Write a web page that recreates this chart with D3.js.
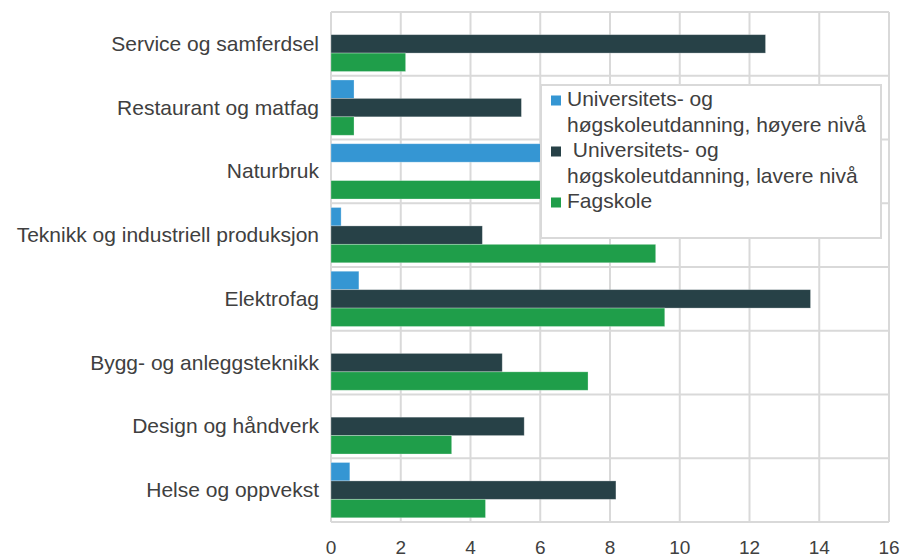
<!DOCTYPE html>
<html><head><meta charset="utf-8">
<script src="https://cdn.jsdelivr.net/npm/d3@7"></script>
<style>body{margin:0;background:#fff}svg{display:block}text{font-family:"Liberation Sans",Arial,sans-serif;fill:#404040}</style>
</head><body><svg id="c" width="904" height="557"></svg>
<script>
const categories = ["Service og samferdsel","Restaurant og matfag","Naturbruk","Teknikk og industriell produksjon","Elektrofag","Bygg- og anleggsteknikk","Design og håndverk","Helse og oppvekst"];
const seriesNames = ["Universitets- og høgskoleutdanning, høyere nivå","Universitets- og høgskoleutdanning, lavere nivå","Fagskole"];
const hoyere = [0, 0.66, 8.5, 0.29, 0.8, 0, 0, 0.54];
const lavere = [12.46, 5.46, 0, 4.34, 13.75, 4.91, 5.54, 8.17];
const fagskole = [2.14, 0.66, 7.5, 9.31, 9.57, 7.37, 3.46, 4.43];
const xTicks = [0,2,4,6,8,10,12,14,16];
const colors = ["#3596d3","#274147","#1f9e4a"];
const legendLines = [["Universitets- og","høgskoleutdanning, høyere nivå"],[" Universitets- og","høgskoleutdanning, lavere nivå"],["Fagskole"]];

const svg = d3.select("#c");
const L = 331, R = 889, T = 12, B = 522;
const FS = 21;
const x = d3.scaleLinear().domain([0,16]).range([L,R]);
const y0 = d3.scaleBand().domain(categories).range([T,B]).padding(0);
const y1 = d3.scaleBand().domain([0,1,2]).range([0,y0.bandwidth()]).paddingInner(0).paddingOuter(0.23);
const gridC = "#d9d9d9";

// grid
svg.append("g").selectAll("line.v").data(xTicks).join("line")
  .attr("x1",d=>x(d)).attr("x2",d=>x(d)).attr("y1",T).attr("y2",B)
  .attr("stroke",gridC).attr("stroke-width",2);
const bounds = categories.map(c=>y0(c)).concat([B]);
svg.append("g").selectAll("line.h").data(bounds).join("line")
  .attr("x1",L).attr("x2",R).attr("y1",d=>d).attr("y2",d=>d)
  .attr("stroke",gridC).attr("stroke-width",2);

// bars
const series = [hoyere, lavere, fagskole];
series.forEach((vals, si) => {
  svg.append("g").selectAll("rect").data(vals.map((v,i)=>({v,c:categories[i]})).filter(d=>d.v>0)).join("rect")
    .attr("x", x(0)).attr("y", d=>y0(d.c)+y1(si))
    .attr("width", d=>x(d.v)-x(0)).attr("height", y1.bandwidth())
    .attr("fill", colors[si]).attr("stroke","rgba(255,255,255,0.35)").attr("stroke-width",0.8);
});

// x axis labels
svg.append("g").selectAll("text").data(xTicks).join("text")
  .attr("x",d=>x(d)).attr("y",554).attr("text-anchor","middle")
  .attr("font-size",19).text(d=>d);

// category labels
svg.append("g").selectAll("text").data(categories).join("text")
  .attr("x",319).attr("y",d=>y0(d)+y0.bandwidth()/2+7).attr("text-anchor","end")
  .attr("font-size",FS).text(d=>d);

// legend
const lg = svg.append("g");
lg.append("rect").attr("x",541).attr("y",85).attr("width",340).attr("height",153)
  .attr("fill","#fff").attr("stroke",gridC).attr("stroke-width",2);
const lineY = [106,131.5,157,182.5,208];
let li = 0;
legendLines.forEach((lines, si) => {
  lg.append("rect").attr("x",551).attr("y",lineY[li]-10.5).attr("width",10).attr("height",10).attr("fill",colors[si]);
  lines.forEach(t => {
    lg.append("text").attr("x",567).attr("y",lineY[li]).attr("font-size",FS).attr("xml:space","preserve").style("white-space","pre").text(t);
    li++;
  });
});
</script></body></html>
